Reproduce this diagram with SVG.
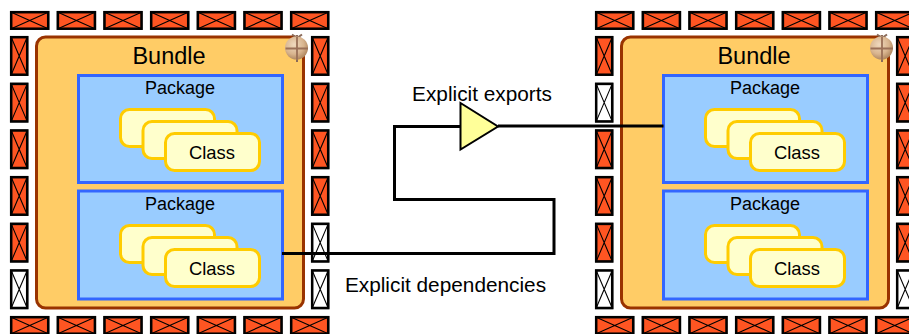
<svg xmlns="http://www.w3.org/2000/svg" width="909" height="334" viewBox="0 0 909 334">
<style>
text{font-family:"Liberation Sans",Arial,sans-serif;fill:#000;text-anchor:middle}
.b{fill:#FFCC66;stroke:#993300;stroke-width:3}
.p{fill:#99CCFF;stroke:#3366FF;stroke-width:3}
.c{fill:#FFFFCC;stroke:#FFCC00;stroke-width:3}
.o{fill:#FF5522}
.w{fill:#FFF}
.f{stroke:#000;stroke-width:2.5;filter:drop-shadow(0 0 0.7px #777)}
.x{fill:none;stroke:#000;stroke-width:1.1}
.l{fill:none;stroke:#000;stroke-width:3}
.t1{font-size:23.5px}.t2{font-size:18px}.t4{font-size:18.4px}.t3{font-size:20.8px}
</style>
<defs>
<radialGradient id="ball" cx="0.4" cy="0.35" r="0.7"><stop offset="0" stop-color="#EFD9BE"/><stop offset="0.6" stop-color="#D8B48E"/><stop offset="1" stop-color="#A98058"/></radialGradient>
<g id="ho"><rect class="o f" x="1.200" y="1.200" width="37" height="16.500"/><path class="x" d="M1.200 1.200L38.200 17.700M1.200 17.700L38.200 1.200"/></g>
<g id="vo"><rect class="o f" x="1.200" y="1.200" width="16" height="37.500"/><path class="x" d="M1.200 1.200L17.200 38.700M17.200 1.200L1.200 38.700"/></g>
<g id="vw"><rect class="w f" x="1.200" y="1.200" width="16" height="37.500"/><path class="x" d="M1.200 1.200L17.200 38.700M17.200 1.200L1.200 38.700"/></g>
<g id="classes">
<rect class="c" x="120.500" y="109.500" width="94" height="37" rx="9"/>
<rect class="c" x="143" y="121.500" width="94" height="37" rx="9"/>
<rect class="c" x="165.500" y="133.500" width="94" height="37" rx="9"/>
<text class="t4" x="212" y="159">Class</text>
</g>
<g id="icon">
<path d="M297 35V62M292 34.500L297 38L302 34.500" fill="none" stroke="#8A6A58" stroke-width="2"/>
<circle cx="296.500" cy="48" r="11.500" fill="url(#ball)"/>
<path d="M297 37V59M285.500 48.500H308" fill="none" stroke="#9A7058" stroke-width="1.800"/>
</g>
<g id="row">
<use href="#ho" x="10"/><use href="#ho" x="56.700"/><use href="#ho" x="103.300"/><use href="#ho" x="150"/><use href="#ho" x="196.700"/><use href="#ho" x="243.300"/><use href="#ho" x="290"/>
</g>
</defs>

<g id="bundle-left">
<rect class="b" x="36.500" y="37" width="267" height="271" rx="9"/>
<text class="t1" x="169" y="64">Bundle</text>
<use href="#icon"/>
</g>
<g id="package-left-1">
<rect class="p" x="78.500" y="75.500" width="204" height="107"/>
<text class="t2" x="180" y="94">Package</text>
<use href="#classes"/>
</g>
<g id="package-left-2">
<rect class="p" x="78.500" y="191" width="204" height="108"/>
<text class="t2" x="180" y="210">Package</text>
<use href="#classes" y="116"/>
</g>
<g id="ports-left">
<use href="#row" y="11"/><use href="#row" y="316"/>
<use href="#vo" x="10" y="36"/><use href="#vo" x="10" y="82.700"/><use href="#vo" x="10" y="129.300"/><use href="#vo" x="10" y="176"/><use href="#vo" x="10" y="222.700"/><use href="#vw" x="10" y="269.300"/>
<use href="#vo" x="311" y="36"/><use href="#vo" x="311" y="82.700"/><use href="#vo" x="311" y="129.300"/><use href="#vo" x="311" y="176"/><use href="#vw" x="311" y="222.700"/><use href="#vw" x="311" y="269.300"/>
</g>

<g id="bundle-right" transform="translate(585 0)">
<rect class="b" x="36.500" y="37" width="267" height="271" rx="9"/>
<text class="t1" x="169" y="64">Bundle</text>
<use href="#icon"/>
</g>
<g id="package-right-1" transform="translate(585 0)">
<rect class="p" x="78.500" y="75.500" width="204" height="107"/>
<text class="t2" x="180" y="94">Package</text>
<use href="#classes"/>
</g>
<g id="package-right-2" transform="translate(585 0)">
<rect class="p" x="78.500" y="191" width="204" height="108"/>
<text class="t2" x="180" y="210">Package</text>
<use href="#classes" y="116"/>
</g>
<g id="ports-right" transform="translate(585 0)">
<use href="#row" y="11"/><use href="#row" y="316"/>
<use href="#vo" x="10" y="36"/><use href="#vw" x="10" y="82.700"/><use href="#vo" x="10" y="129.300"/><use href="#vo" x="10" y="176"/><use href="#vo" x="10" y="222.700"/><use href="#vw" x="10" y="269.300"/>
<use href="#vo" x="311" y="36"/><use href="#vo" x="311" y="82.700"/><use href="#vo" x="311" y="129.300"/><use href="#vo" x="311" y="176"/><use href="#vo" x="311" y="222.700"/><use href="#vw" x="311" y="269.300"/>
</g>

<g id="connectors">
<path class="l" d="M282 253.500H554V199.500H394.500V126.500H460"/>
<path class="l" d="M498 126H663.500"/>
</g>
<g id="export-triangle">
<path d="M460.500 103L498 126.500L460.500 149.500Z" fill="#FFFF99" stroke="#000" stroke-width="2"/>
</g>
<text class="t3" x="482" y="101">Explicit exports</text>
<text class="t3" x="445.500" y="292">Explicit dependencies</text>
</svg>
